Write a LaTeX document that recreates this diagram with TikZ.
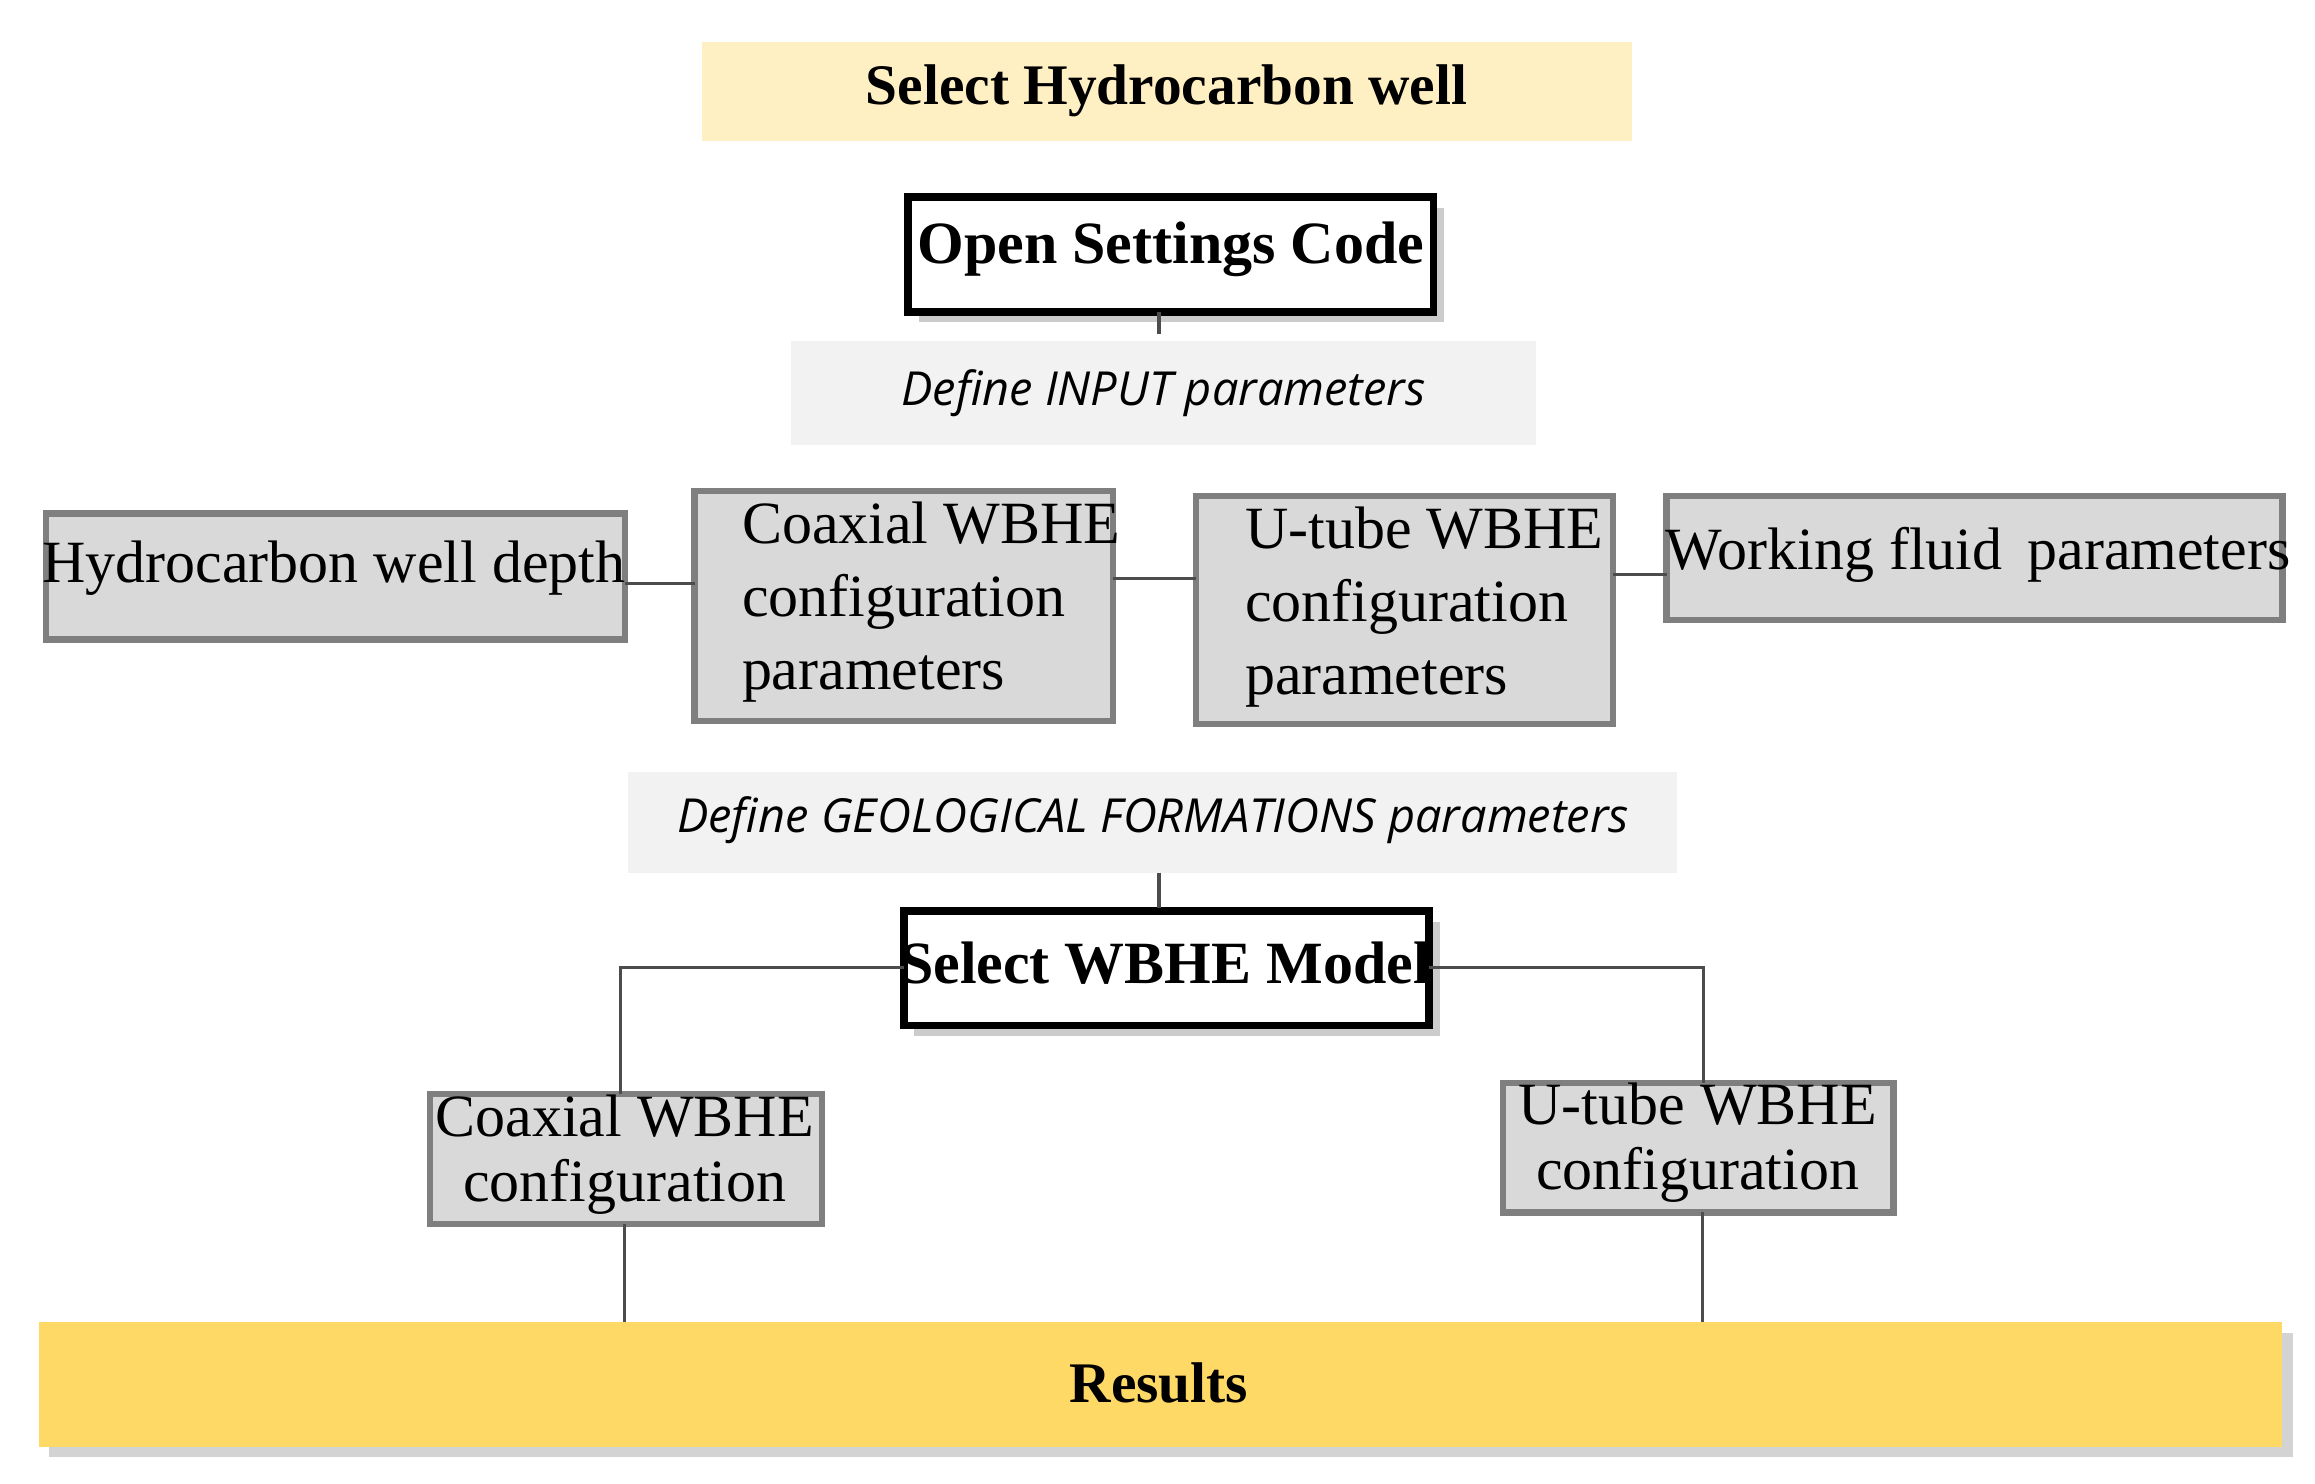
\documentclass[tikz,border=0pt]{standalone}
\usepackage{fontspec}
\setmainfont{Liberation Serif}
\newfontfamily\osans{Open Sans}
\usetikzlibrary{shadows}
\definecolor{lyel}{HTML}{FFF0C4}
\definecolor{gold}{HTML}{FFD966}
\definecolor{lgray}{HTML}{F2F2F2}
\definecolor{bgray}{HTML}{D9D9D9}
\definecolor{edgegray}{HTML}{7F7F7F}
\begin{document}
\begin{tikzpicture}[x=1cm,y=-1cm,
 lbl/.style={draw=none,inner sep=0,outer sep=0},
 title/.style={fill=lyel,font=\fontsize{11}{13}\selectfont\bfseries},
 black/.style={draw=black,line width=1.5pt,fill=white,font=\fontsize{11.5}{13}\selectfont\bfseries,drop shadow={shadow xshift=2pt,shadow yshift=-2pt,opacity=0.4}},
 ital/.style={fill=lgray,font=\osans\itshape\fontsize{9}{11}\selectfont},
 gbox/.style={draw=edgegray,line width=1.2pt,fill=bgray,font=\fontsize{11.5}{13.5}\selectfont,align=left,text width=#1,inner sep=0},
 gbox/.default=3cm,
 conn/.style={draw=black!70,line width=0.6pt}]
\useasboundingbox (0,0) rectangle (15.6,10);
\path[title] (4.73,0.28) rectangle (11.0,0.95);
\node[lbl,font=\fontsize{11}{13}\selectfont\bfseries] (sel) at (7.86,0.615) {Select Hydrocarbon well};
\path[black] (6.12,1.33) rectangle (9.66,2.10);
\node[lbl,font=\fontsize{11.5}{13}\selectfont\bfseries] (osc) at (7.89,1.68) {Open Settings Code};
\coordinate (oscb) at (7.81,2.10);
\path[ital] (5.33,2.30) rectangle (10.35,3.00);
\node[lbl,font=\osans\itshape\fontsize{9}{11}\selectfont] (inp) at (7.84,2.65) {Define INPUT parameters};
\coordinate (inpt) at (7.81,2.30);
\draw[conn] (oscb) -- (7.81,2.25);
% row of parameter boxes
\path[draw=edgegray,line width=1.2pt,fill=bgray] (0.31,3.46) rectangle (4.21,4.31);
\node[lbl,font=\fontsize{11.5}{13.5}\selectfont] (hwd) at (2.25,3.83) {Hydrocarbon well depth};
\path[draw=edgegray,line width=1.2pt,fill=bgray] (4.68,3.31) rectangle (7.50,4.86);
\node[lbl,font=\fontsize{11.5}{14}\selectfont,align=left,anchor=west] (cwp) at (5.00,4.06) {Coaxial WBHE\\configuration\\parameters};
\path[draw=edgegray,line width=1.2pt,fill=bgray] (8.06,3.34) rectangle (10.87,4.88);
\node[lbl,font=\fontsize{11.5}{14}\selectfont,align=left,anchor=west] (uwp) at (8.39,4.09) {U-tube WBHE\\configuration\\parameters};
\path[draw=edgegray,line width=1.2pt,fill=bgray] (11.23,3.34) rectangle (15.38,4.18);
\node[lbl,font=\fontsize{11.5}{13.5}\selectfont] (wfp) at (13.33,3.74) {Working fluid\, parameters};
\draw[conn] (4.21,3.93) -- (4.68,3.93);
\draw[conn] (7.50,3.90) -- (8.06,3.90);
\draw[conn] (10.87,3.87) -- (11.23,3.87);
% geological
\path[ital] (4.23,5.20) rectangle (11.30,5.88);
\node[lbl,font=\osans\itshape\fontsize{9}{11}\selectfont] (geo) at (7.77,5.53) {Define GEOLOGICAL FORMATIONS parameters};
\path[black] (6.09,6.14) rectangle (9.63,6.91);
\node[lbl,font=\fontsize{11.5}{13}\selectfont\bfseries] (swm) at (7.85,6.49) {Select WBHE Model};
\draw[conn] (7.81,5.88) -- (7.81,6.12);
\path[draw=edgegray,line width=1.2pt,fill=bgray] (2.90,7.37) rectangle (5.54,8.25);
\node[lbl,font=\fontsize{11.5}{12.5}\selectfont,align=center] (cc) at (4.21,7.78) {Coaxial WBHE\\configuration};
\path[draw=edgegray,line width=1.2pt,fill=bgray] (10.13,7.30) rectangle (12.76,8.17);
\node[lbl,font=\fontsize{11.5}{12.5}\selectfont,align=center] (uc) at (11.44,7.70) {U-tube WBHE\\configuration};
\draw[conn] (6.09,6.52) -| (4.18,7.37);
\draw[conn] (9.63,6.52) -| (11.48,7.30);
% results
\path[fill=gold,drop shadow={shadow xshift=2pt,shadow yshift=-2pt,opacity=0.35}] (0.26,8.91) rectangle (15.38,9.75);
\node[lbl,font=\fontsize{11}{13}\selectfont\bfseries] (res) at (7.81,9.32) {Results};
\draw[conn] (4.21,8.25) -- (4.21,8.91);
\draw[conn] (11.47,8.17) -- (11.47,8.91);
\end{tikzpicture}
\end{document}
